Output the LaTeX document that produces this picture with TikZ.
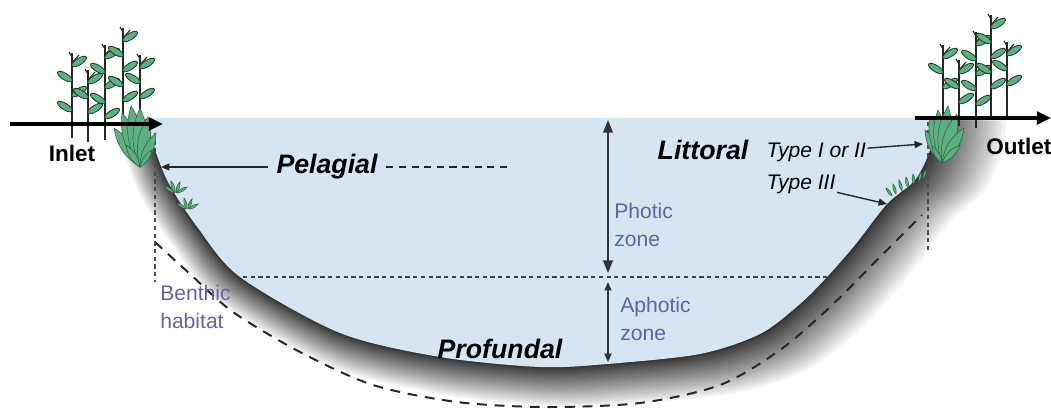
\documentclass[tikz,border=0pt]{standalone}
\usepackage{fontspec}
\setmainfont{Liberation Sans}
\usetikzlibrary{arrows.meta,positioning}

\definecolor{lake}{RGB}{214,229,242}
\definecolor{zonetxt}{RGB}{98,98,168}
\definecolor{plantgr}{RGB}{92,176,128}
\definecolor{plantln}{RGB}{30,62,42}

\tikzset{
  lbl/.style ={font=\fontsize{19}{22}\selectfont\bfseries\itshape,inner sep=1pt},
  typ/.style ={font=\fontsize{15}{18}\selectfont\itshape,inner sep=1pt},
  zone/.style={font=\fontsize{15}{20}\selectfont,text=zonetxt,align=left,inner sep=0pt},
  flow/.style={font=\fontsize{16}{18}\selectfont\bfseries,inner sep=1pt},
  big/.style ={-{Triangle[length=10pt,width=9pt]},line width=2.2pt},
  dar/.style ={{Triangle[length=9pt,width=7pt]}-{Triangle[length=9pt,width=7pt]},line width=1pt,black!80},
  sar/.style ={{Triangle[length=6pt,width=5pt]}-{Triangle[length=6pt,width=5pt]},line width=1pt,black!80},
  ptr/.style ={-{Triangle[length=6pt,width=5pt]},line width=1pt,black!85},
  stem/.style={line width=1.2pt,black!85},
  leaf/.style={fill=plantgr,draw=plantln,line width=.6pt},
  blade/.style={fill=plantgr,draw=plantgr!55!black,line width=.4pt},
  dotln/.style={black!70,line width=.8pt,dash pattern=on 3pt off 2.5pt},
}

% water body, y grows downwards
\def\lakepath{plot[smooth] coordinates {(150,118) (152,140) (168,182) (198,228)
  (240,277) (340,333) (440,357) (540,367) (607,364) (700,354) (760,334)
  (800,304) (827,277) (855,245) (887,204) (915,180) (930,150) (935,118)} -- cycle}

% reed: stem at x=#1 from y=#2 down to y=#3
\newcommand\reed[3]{%
  \draw[stem] (#1,#2) -- (#1,#3);
  \draw[stem,line width=.8pt] (#1,#2+10) -- ++(7,-8);
  \draw[stem,line width=.8pt] (#1,#2+4) -- ++(-3,-5);
  \foreach \k in {0,...,5}{
    \pgfmathsetmacro\ly{#2+13+15*\k}
    \pgfmathtruncatemacro\side{mod(\k,2)}
    \pgfmathtruncatemacro\ok{\ly<#3-20}
    \ifnum\ok=1
      \ifnum\side=0
        \path[leaf,rotate around={32:(#1,\ly)}] (#1,\ly) ++(6pt,0) ellipse (6pt and 2.3pt);
      \else
        \path[leaf,rotate around={-32:(#1,\ly)}] (#1,\ly) ++(-6pt,0) ellipse (6pt and 2.3pt);
      \fi
    \fi}}

% pointed blade from base (#1,#2) to tip (#3,#4)
\newcommand\blade[4]{\path[blade] (#1,#2) to[bend left=24] (#3,#4) to[bend left=24] (#1,#2);}

\begin{document}
\begin{tikzpicture}[x=0.025cm,y=-0.025cm]
  \useasboundingbox (0,0) rectangle (1051,408);

  % ground shadow under the bed, denser close to it
  \foreach \i in {1,...,40}{
    \pgfmathsetmacro\t{(\i/40)^2}
    \fill[black,opacity=.042,shift={({540+20*\t},100)},xscale={1+0.13*\t},
          yscale={1+0.15*\t},shift={(-540,-100)}] \lakepath;}
  \fill[lake] \lakepath;

  % benthic boundary and thermocline
  \draw[black!85,line width=1.4pt,dash pattern=on 7pt off 5.5pt]
    plot[smooth] coordinates {(155,242) (190,274) (233,312) (300,352) (373,385)
      (457,402) (545,407) (640,403) (720,385) (780,350) (830,307) (877,260) (922,215)};
  \draw[black!75,line width=.8pt,dash pattern=on 3pt off 2.5pt] (243,277) -- (830,277);
  \draw[dotln] (155,133) -- (155,282);
  \draw[dotln] (928,122) -- (928,252);

  % reeds
  \reed{72}{53}{138}
  \reed{88}{70}{142}
  \reed{105}{45}{140}
  \reed{123}{28}{132}
  \reed{140}{55}{130}
  \reed{943}{45}{120}
  \reed{959}{60}{126}
  \reed{976}{32}{128}
  \reed{991}{15}{118}
  \reed{1007}{42}{118}

  % emergent plants (type I or II)
  \foreach \tx/\ty in {114/128,122/113,131/106,140/108,148/117,156/133,126/145,152/150}{
    \blade{140}{167}{\tx}{\ty}}
  \foreach \tx/\ty in {925/130,930/116,938/110,948/106,957/114,964/128,932/146,960/145}{
    \blade{942}{163}{\tx}{\ty}}

  % submerged plants (type III)
  \foreach \bx/\by/\tx/\ty in {174/193/165/186,175/193/171/181,176/193/180/182,177/193/187/187,
      186/209/177/203,187/209/184/198,188/209/192/199,189/209/198/204,
      892/196/886/188,896/194/893/184,902/191/899/180,908/188/906/177,
      914/185/913/174,919/182/921/172,923/179/926/170}{
    \blade{\bx}{\by}{\tx}{\ty}}

  % inlet and outlet
  \coordinate (inS) at (10,124);
  \coordinate (inE) at (163,124);
  \coordinate (outS) at (915,118);
  \coordinate (outE) at (1051,118);
  \draw[big] (inS) -- (inE);
  \draw[big] (outS) -- (outE);
  \node[flow] (inlet) at (72,153) {Inlet};
  \node[flow,anchor=east] (outlet) at (1053,146) {Outlet};

  % zones
  \node[lbl,inner xsep=6pt] (pel) at (327,167) {Pelagial};
  \coordinate (pelL) at (161,167);
  \coordinate (pelR) at (510,167);
  \draw[ptr] (pel) -- (pelL);
  \draw[black!85,line width=1pt,dash pattern=on 5pt off 4pt] (pel) -- (pelR);

  \node[lbl] (lit) at (703,150) {Littoral};
  \node[typ,anchor=west] (t12) at (765,152) {Type I or II};
  \coordinate (t12tip) at (923,144);
  \draw[ptr] (t12) -- (t12tip);
  \node[typ,anchor=west] (t3) at (765,184) {Type III};
  \coordinate (t3tip) at (887,204);
  \draw[ptr] (t3) -- (t3tip);

  \coordinate (sfc) at (608,120);
  \coordinate (thr) at (608,273);
  \coordinate (thr2) at (608,282);
  \coordinate (bed) at (608,362);
  \draw[dar] (sfc) -- (thr);
  \draw[sar] (thr2) -- (bed);
  \node[zone,anchor=north west] (photic) at (614,203) {Photic\\zone};
  \node[zone,anchor=north west] (aphotic) at (620,297) {Aphotic\\zone};
  \node[zone,anchor=north west] (benthic) at (160,285) {Benthic\\habitat};
  \node[lbl] (prof) at (500,349) {Profundal};
\end{tikzpicture}
\end{document}
